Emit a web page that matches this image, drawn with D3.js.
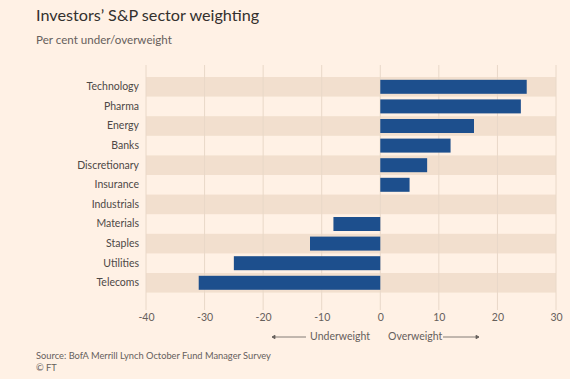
<!DOCTYPE html>
<html><head><meta charset="utf-8">
<script src="https://cdn.jsdelivr.net/npm/d3@7"></script>
<style>
html,body{margin:0;padding:0;background:#fff1e5;}
svg{display:block;font-family:Lato,"Open Sans",sans-serif;}
</style></head>
<body><svg id="c" width="570" height="379"></svg>
<script>
const categories = ["Technology","Pharma","Energy","Banks","Discretionary","Insurance","Industrials","Materials","Staples","Utilities","Telecoms"];
const values = [25,24,16,12,8,5,0,-8,-12,-25,-31];
const tickValues = [-40,-30,-20,-10,0,10,20,30];

const svg = d3.select("#c");
const x = d3.scaleLinear().domain([-40,30]).range([146,556]);
const y = d3.scaleBand().domain(categories).range([77,292.6]).paddingInner(0).paddingOuter(0);

// title
svg.append("text").attr("x",36).attr("y",21).attr("font-size",16.2).attr("fill","#33302e").text("Investors’ S&P sector weighting");
svg.append("text").attr("x",36).attr("y",44).attr("font-size",11.6).attr("fill","#66605c").text("Per cent under/overweight");

// bands
svg.append("g").selectAll("rect").data(categories.filter((d,i)=>i%2===0)).join("rect")
  .attr("x",x(-40)).attr("width",x(30)-x(-40))
  .attr("y",d=>y(d)).attr("height",y.bandwidth())
  .attr("fill","#f2dfce");

// grid
svg.append("g").selectAll("line").data(tickValues).join("line")
  .attr("x1",d=>x(d)).attr("x2",d=>x(d)).attr("y1",65).attr("y2",310)
  .attr("stroke","#e9d8c8").attr("stroke-width",1);

// bars
const bh = 14;
svg.append("g").selectAll("rect").data(categories).join("rect")
  .attr("x",(d,i)=>x(Math.min(0,values[i])))
  .attr("width",(d,i)=>Math.abs(x(values[i])-x(0)))
  .attr("y",d=>y(d)+(y.bandwidth()-bh)/2)
  .attr("height",bh)
  .attr("fill","#1d4f8d");

// category labels
const ax = d3.axisLeft(y).tickSize(0).tickPadding(0);
const gy = svg.append("g").attr("transform","translate(139,0)").call(ax);
gy.select(".domain").remove();
gy.selectAll("text").attr("font-size",10.5).attr("fill","#4d4845").attr("font-family","Lato,'Open Sans',sans-serif");

// x axis
const axb = d3.axisBottom(x).tickValues(tickValues).tickFormat(d=>String(d)).tickSize(0).tickPadding(0);
const gx = svg.append("g").attr("transform","translate(0,314)").call(axb);
gx.select(".domain").remove();
gx.selectAll("text").attr("font-size",10.5).attr("fill","#66605c").attr("font-family","Lato,'Open Sans',sans-serif");

// under/over
const uo = svg.append("g").attr("font-size",10.5).attr("fill","#66605c");
uo.append("text").attr("x",370).attr("y",340).attr("text-anchor","end").text("Underweight");
uo.append("text").attr("x",388).attr("y",340).text("Overweight");
const arr = svg.append("g").attr("stroke","#66605c").attr("stroke-width",0.8);
arr.append("line").attr("x1",272).attr("x2",306).attr("y1",337).attr("y2",337);
arr.append("path").attr("d","M272,337 l3,-1.8 v3.6 z").attr("fill","#66605c");
arr.append("line").attr("x1",443).attr("x2",479).attr("y1",337).attr("y2",337);
arr.append("path").attr("d","M479,337 l-3,-1.8 v3.6 z").attr("fill","#66605c");

// source
svg.append("text").attr("x",36).attr("y",359).attr("font-size",9.3).attr("fill","#66605c").text("Source: BofA Merrill Lynch October Fund Manager Survey");
svg.append("text").attr("x",36).attr("y",371).attr("font-size",9.3).attr("fill","#66605c").text("© FT");
</script></body></html>
